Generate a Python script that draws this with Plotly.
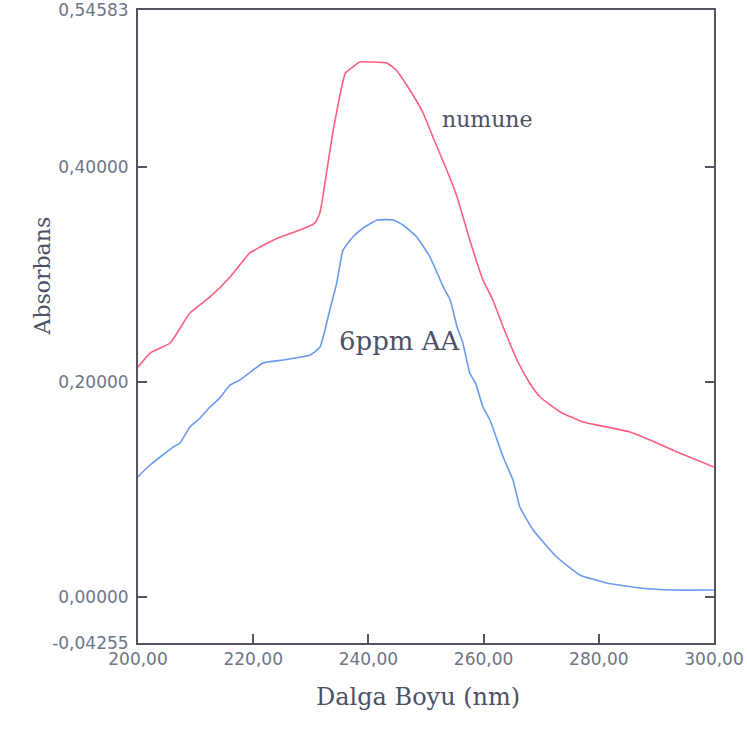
import plotly.graph_objects as go

# Data
wl_numune = [200.0, 202.1, 205.6, 209.0, 212.5, 216.0, 219.4, 221.2, 224.7, 228.1,
             230.7, 231.5, 232.0, 232.8, 233.9, 235.0, 236.0, 237.3, 238.5, 240.3,
             243.2, 244.8, 247.2, 249.5, 251.2, 253.6, 255.4, 257.6, 259.9, 261.6,
             263.4, 265.8, 268.0, 269.8, 273.3, 277.3, 281.4, 285.4, 288.9, 293.6, 300.0]
abs_numune = [0.2140, 0.2270, 0.2363, 0.2642, 0.2791, 0.2977, 0.3200, 0.3255, 0.3348, 0.3413,
              0.3478, 0.3560, 0.3692, 0.3971, 0.4343, 0.4650, 0.4873, 0.4929, 0.4975, 0.4975,
              0.4966, 0.4901, 0.4715, 0.4501, 0.4278, 0.3971, 0.3720, 0.3320, 0.2949, 0.2763,
              0.2512, 0.2205, 0.1991, 0.1861, 0.1722, 0.1629, 0.1582, 0.1536, 0.1461, 0.1350, 0.1210]

wl_aa = [200.0, 200.3, 202.1, 204.3, 206.1, 207.3, 209.0, 210.8, 212.5, 214.2,
         216.0, 217.7, 221.7, 225.2, 229.9, 231.6, 233.3, 234.5, 235.6, 237.3,
         239.1, 241.5, 244.3, 246.0, 248.4, 250.7, 253.0, 254.2, 255.4, 256.4,
         257.6, 258.6, 259.9, 261.1, 263.4, 265.1, 266.3, 268.6, 272.7, 276.7,
         281.4, 287.2, 292.9, 300.0]
abs_aa = [0.1118, 0.1136, 0.1229, 0.1322, 0.1396, 0.1434, 0.1582, 0.1666, 0.1768, 0.1852,
          0.1973, 0.2019, 0.2177, 0.2205, 0.2252, 0.2326, 0.2670, 0.2921, 0.3228, 0.3348,
          0.3432, 0.3506, 0.3506, 0.3460, 0.3348, 0.3162, 0.2884, 0.2763, 0.2512, 0.2363,
          0.2084, 0.1990, 0.1768, 0.1647, 0.1303, 0.1090, 0.0839, 0.0625, 0.0374, 0.0207,
          0.0132, 0.0086, 0.0067, 0.0067]

x_ticks = [200, 220, 240, 260, 280, 300]
x_tick_text = ["200,00", "220,00", "240,00", "260,00", "280,00", "300,00"]
y_ticks = [-0.04255, 0.0, 0.2, 0.4, 0.54583]
y_tick_text = ["-0,04255", "0,00000", "0,20000", "0,40000", "0,54583"]

tick_color = "#6e7487"
title_color = "#4d5166"
axis_color = "#55555f"

fig = go.Figure()
fig.add_trace(go.Scatter(x=wl_numune, y=abs_numune, mode="lines",
                         line=dict(color="#ff5f7e", width=1.6, shape="spline", smoothing=0.4),
                         name="numune", showlegend=False))
fig.add_trace(go.Scatter(x=wl_aa, y=abs_aa, mode="lines",
                         line=dict(color="#6b9bf0", width=1.6, shape="spline", smoothing=0.4),
                         name="6ppm AA", showlegend=False))

fig.update_layout(
    width=747, height=736,
    margin=dict(l=138, r=33, t=10, b=93),
    paper_bgcolor="white", plot_bgcolor="white",
    xaxis=dict(range=[200, 300], tickvals=x_ticks, ticktext=x_tick_text,
               ticks="inside", ticklen=9, tickwidth=2, tickcolor=axis_color,
               showline=True, linecolor=axis_color, linewidth=2, mirror=True,
               showgrid=False, zeroline=False, automargin=False,
               ticklabeloverflow="allow",
               tickfont=dict(family="DejaVu Sans", size=17, color=tick_color)),
    yaxis=dict(range=[-0.04255, 0.54583], tickvals=y_ticks, ticktext=y_tick_text,
               ticks="inside", ticklen=9, tickwidth=2, tickcolor=axis_color,
               showline=True, linecolor=axis_color, linewidth=2, mirror="ticks",
               showgrid=False, zeroline=False, ticklabelstandoff=4, automargin=False,
               ticklabeloverflow="allow",
               tickfont=dict(family="DejaVu Sans", size=17, color=tick_color)),
    annotations=[
        dict(text="numune", x=260.7, y=0.4436, xref="x", yref="y", showarrow=False,
             font=dict(family="DejaVu Serif", size=22, color=title_color)),
        dict(text="6ppm AA", x=245.5, y=0.2382, xref="x", yref="y", showarrow=False,
             font=dict(family="DejaVu Serif", size=26, color=title_color)),
        dict(text="Absorbans", x=27, y=276, xref="paper", yref="paper", showarrow=False,
             textangle=-90, font=dict(family="DejaVu Serif", size=22, color=title_color)),
        dict(text="Dalga Boyu (nm)", x=418, y=713, xref="paper", yref="paper",
             showarrow=False, font=dict(family="DejaVu Serif", size=24, color=title_color)),
    ],
)

# convert pixel-located axis titles to paper coordinates
plot_w = 747 - 138 - 33
plot_h = 736 - 10 - 93
for a in fig.layout.annotations:
    if a.xref == "paper":
        a.x = (a.x - 138) / plot_w
        a.y = (736 - 93 - a.y) / plot_h

fig.write_html("out.html")
